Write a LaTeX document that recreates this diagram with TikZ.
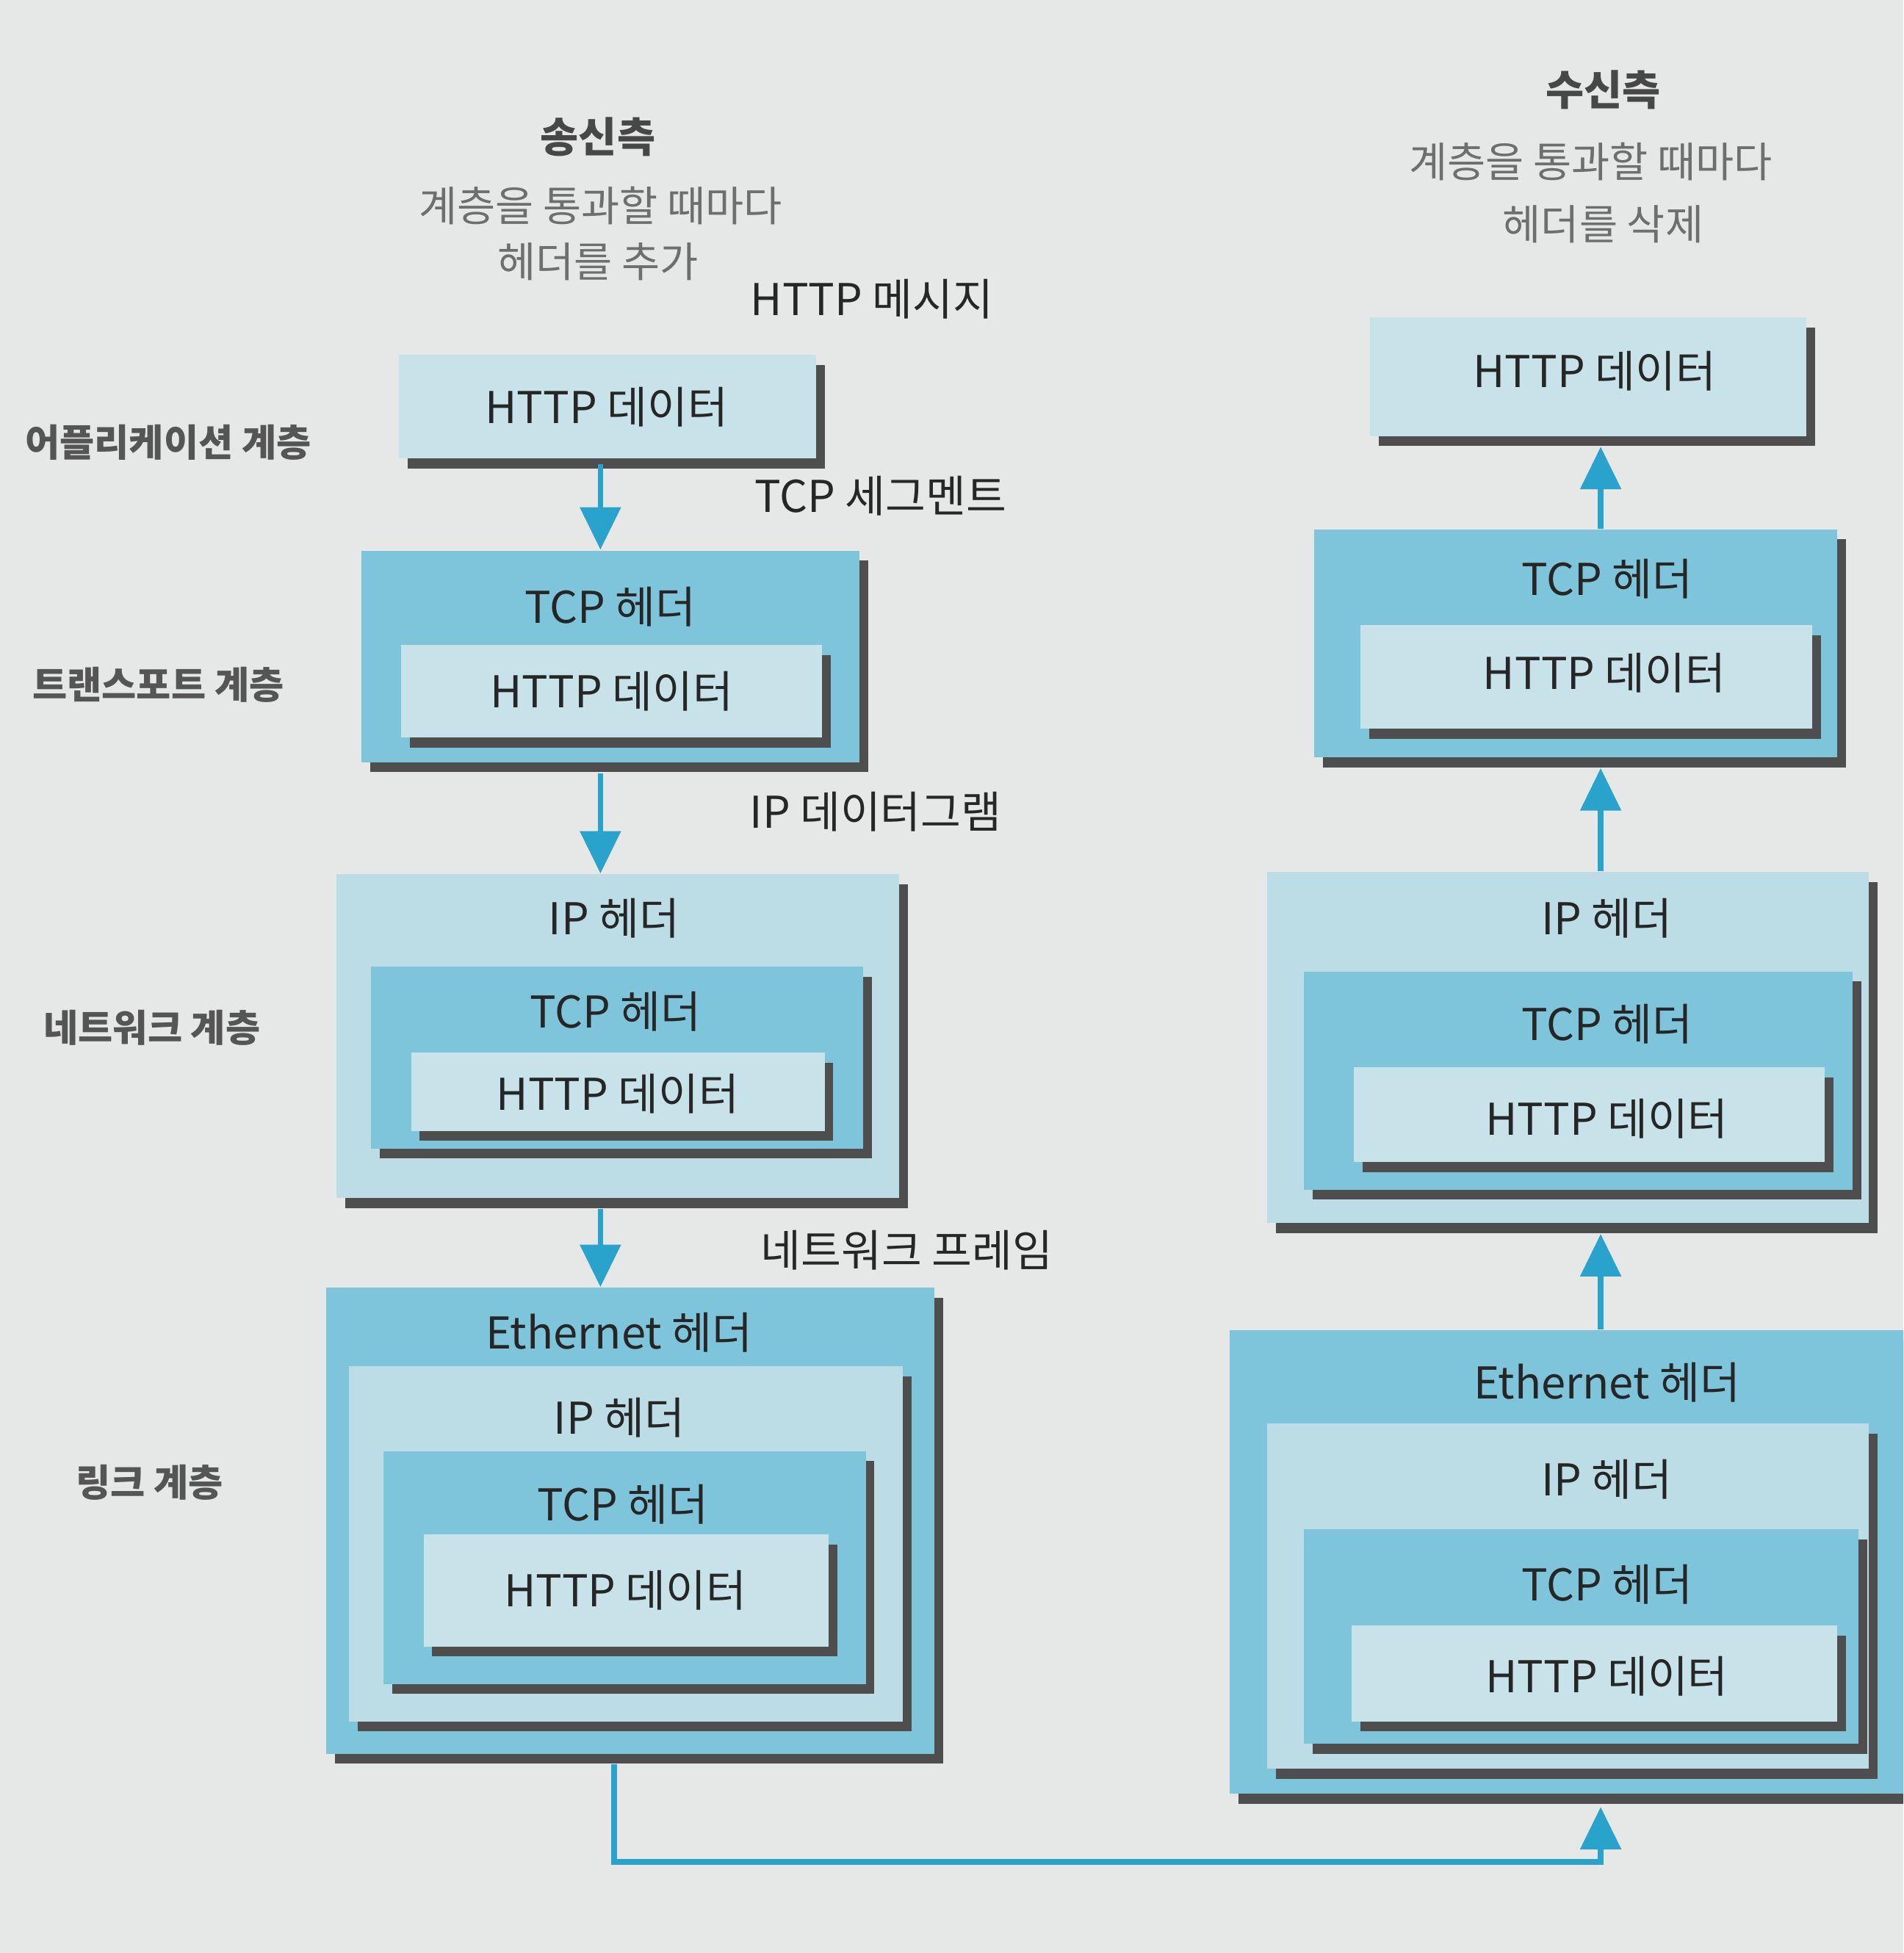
\documentclass[tikz,border=0pt]{standalone}
\usepackage{fontspec}
\setmainfont{Noto Sans CJK KR}
\usetikzlibrary{arrows.meta,fit,shadows}
\definecolor{paper}{HTML}{E6E8E7}
\definecolor{lightb}{HTML}{BCDCE6}
\definecolor{midb}{HTML}{7EC4DA}
\definecolor{httpb}{HTML}{C8E2EA}
\definecolor{shad}{HTML}{4E4E4E}
\definecolor{arrb}{HTML}{2AA3CC}
\definecolor{txt}{HTML}{262626}
\definecolor{side}{HTML}{555555}
\definecolor{grayt}{HTML}{6E6E6E}
\newcommand\lbox[6]{%
  \coordinate (#1-a) at (#2,#3);
  \coordinate (#1-b) at (#4,#5);
  \node[#6, fit=(#1-a)(#1-b)] (#1) {};}
\begin{document}
\begin{tikzpicture}[x=0.01cm,y=-0.01cm,
  boxbase/.style={inner sep=0pt, draw=none,
    drop shadow={shadow xshift=0.07cm,shadow yshift=-0.08cm,fill=shad,opacity=1}},
  httpbox/.style={boxbase, fill=httpb},
  ipbox/.style={boxbase, fill=lightb},
  tcpbox/.style={boxbase, fill=midb},
  ethbox/.style={boxbase, fill=midb},
  lbl/.style={text=txt, font=\fontsize{10}{12}\selectfont, inner sep=1pt},
  chan/.style={text=txt, font=\fontsize{10}{12}\selectfont, inner sep=1pt},
  sidel/.style={text=side, font=\fontsize{8.6}{10}\selectfont\bfseries, inner sep=1pt},
  headb/.style={text=txt!85!white, font=\fontsize{9.5}{11}\selectfont\bfseries, inner sep=1pt},
  headt/.style={text=grayt, font=\fontsize{9.5}{11}\selectfont, inner sep=1pt},
  arr/.style={draw=arrb, line width=0.045cm, -{Triangle[width=0.32cm,length=0.34cm]}}
]
\useasboundingbox (0,0) rectangle (1528,1568);
\clip (0,0) rectangle (1528,1568);
\fill[paper] (0,0) rectangle (1528,1568);

% ---------- headings ----------
\node[headb] (sendh) at (480,110) {송신측};
\node[headt] (send1) at (482,165) {계층을 통과할 때마다};
\node[headt] (send2) at (480,210) {헤더를 추가};
\node[headb] (recvh) at (1287,72) {수신측};
\node[headt] (recv1) at (1277,130) {계층을 통과할 때마다};
\node[headt] (recv2) at (1287,180) {헤더를 삭제};

% ---------- side labels ----------
\node[sidel] (s1) at (135,355) {어플리케이션 계층};
\node[sidel] (s2) at (127,550) {트랜스포트 계층};
\node[sidel] (s3) at (122,825) {네트워크 계층};
\node[sidel] (s4) at (120,1190) {링크 계층};

% ---------- channel labels ----------
\node[chan] (c1) at (700,240) {HTTP 메시지};
\node[chan] (c2) at (707,398) {TCP 세그멘트};
\node[chan] (c3) at (703,652) {IP 데이터그램};
\node[chan] (c4) at (728,1004) {네트워크 프레임};

% ---------- sender side ----------
\lbox{L1}{320}{285}{655}{368}{httpbox}
\node[lbl] (tL1) at (487,327) {HTTP 데이터};

\lbox{L2}{290}{442}{690}{612}{tcpbox}
\node[lbl] (tL2) at (490,487) {TCP 헤더};
\lbox{L2h}{322}{518}{660}{592}{httpbox}
\node[lbl] (tL2h) at (491,555) {HTTP 데이터};

\lbox{L3}{270}{702}{722}{962}{ipbox}
\node[lbl] (tL3) at (493,737) {IP 헤더};
\lbox{L3t}{298}{776}{693}{922}{tcpbox}
\node[lbl] (tL3t) at (494,812) {TCP 헤더};
\lbox{L3h}{330}{845}{662}{908}{httpbox}
\node[lbl] (tL3h) at (496,878) {HTTP 데이터};

\lbox{L4}{262}{1034}{750}{1408}{ethbox}
\node[lbl] (tL4) at (497,1070) {Ethernet 헤더};
\lbox{L4i}{280}{1097}{725}{1382}{ipbox}
\node[lbl] (tL4i) at (497,1138) {IP 헤더};
\lbox{L4t}{308}{1165}{695}{1352}{tcpbox}
\node[lbl] (tL4t) at (500,1208) {TCP 헤더};
\lbox{L4h}{340}{1232}{665}{1322}{httpbox}
\node[lbl] (tL4h) at (502,1277) {HTTP 데이터};

% ---------- receiver side ----------
\lbox{R1}{1100}{255}{1450}{350}{httpbox}
\node[lbl] (tR1) at (1280,298) {HTTP 데이터};

\lbox{R2}{1055}{425}{1475}{608}{tcpbox}
\node[lbl] (tR2) at (1290,465) {TCP 헤더};
\lbox{R2h}{1092}{502}{1455}{585}{httpbox}
\node[lbl] (tR2h) at (1288,540) {HTTP 데이터};

\lbox{R3}{1017}{700}{1500}{982}{ipbox}
\node[lbl] (tR3) at (1290,737) {IP 헤더};
\lbox{R3t}{1047}{780}{1487}{955}{tcpbox}
\node[lbl] (tR3t) at (1290,822) {TCP 헤더};
\lbox{R3h}{1087}{857}{1465}{933}{httpbox}
\node[lbl] (tR3h) at (1290,898) {HTTP 데이터};

\lbox{R4}{987}{1068}{1545}{1440}{ethbox}
\node[lbl] (tR4) at (1290,1110) {Ethernet 헤더};
\lbox{R4i}{1017}{1143}{1500}{1420}{ipbox}
\node[lbl] (tR4i) at (1290,1188) {IP 헤더};
\lbox{R4t}{1047}{1228}{1492}{1400}{tcpbox}
\node[lbl] (tR4t) at (1290,1272) {TCP 헤더};
\lbox{R4h}{1085}{1305}{1475}{1382}{httpbox}
\node[lbl] (tR4h) at (1290,1346) {HTTP 데이터};

% ---------- connectors ----------
\coordinate (xl) at (482,0);
\coordinate (xr) at (1285,0);
\draw[arr] ([yshift=-0.04cm]L1.south -| xl) -- (L2.north -| xl);
\draw[arr] ([yshift=-0.08cm]L2.south -| xl) -- (L3.north -| xl);
\draw[arr] ([yshift=-0.08cm]L3.south -| xl) -- (L4.north -| xl);

\draw[arr] (R2.north -| xr) -- ([yshift=-0.08cm]R1.south -| xr);
\draw[arr] (R3.north -| xr) -- ([yshift=-0.08cm]R2.south -| xr);
\draw[arr] (R4.north -| xr) -- ([yshift=-0.08cm]R3.south -| xr);

\coordinate (turnl) at (493,1495);
\draw[arr] ([yshift=-0.08cm]L4.south -| turnl) -- (turnl) -| ([yshift=-0.1cm]R4.south -| xr);
\end{tikzpicture}
\end{document}
